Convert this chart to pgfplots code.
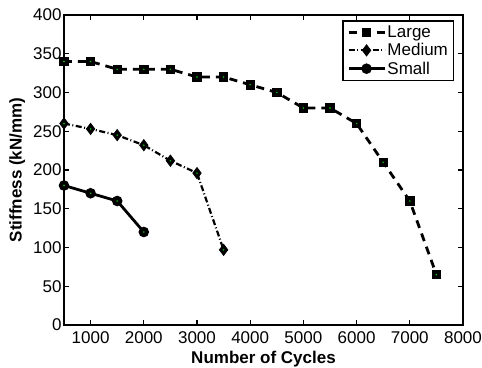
\documentclass[border=0pt]{standalone}
\usepackage{pgfplots}
\pgfplotsset{compat=1.18}
\usepackage{fontspec}
\setmainfont{Liberation Sans}
\begin{document}
\begin{tikzpicture}
\begin{axis}[
  name=ax,
  scale only axis,
  width=399pt, height=310pt,
  xmin=500, xmax=8000, ymin=0, ymax=400,
  xtick={1000,2000,3000,4000,5000,6000,7000,8000},
  ytick={0,50,100,150,200,250,300,350,400},
  tick align=inside,
  major tick length=5pt,
  axis line style={line width=2.4pt},
  every tick/.style={black, line width=1.2pt},
  /pgf/number format/assume math mode=true,
  /pgf/number format/1000 sep={},
  tick label style={font=\fontsize{17}{17}\selectfont},
  xticklabel style={yshift=-3pt},
  yticklabel style={xshift=1pt},
  xlabel={\textbf{Number of Cycles}},
  ylabel={\textbf{Stiffness (kN/mm)}},
  label style={font=\fontsize{17}{17}\selectfont},
  xlabel style={yshift=-1pt},
  ylabel style={yshift=1pt},
  legend style={at={(0.978,0.984)}, anchor=north east, draw=black, line width=1.6pt,
    font=\fontsize{17}{20}\selectfont, row sep=0.5pt, inner xsep=4pt, inner ysep=3pt,
    nodes={inner xsep=1.5pt}},
  legend cell align=left,
  legend image code/.code={\draw[mark repeat=2,mark phase=2] plot coordinates {(0pt,0pt)(18pt,0pt)(36pt,0pt)};},
]
\addplot[black, line width=2.8pt, dash pattern=on 8pt off 6pt, mark=square*, mark size=4.2pt, mark options={solid, line width=0.8pt}]
coordinates {(500,340)(1000,340)(1500,330)(2000,330)(2500,330)(3000,320)(3500,320)(4000,310)(4500,300)(5000,280)(5500,280)(6000,260)(6500,210)(7000,160)(7500,65)};
\addlegendentry{Large}
\addplot[black, line width=2.2pt, dash pattern=on 6pt off 2.5pt on 1pt off 2.5pt, mark=diamond*, mark size=5.6pt, mark options={solid, line width=0.8pt}]
coordinates {(500,260)(1000,253)(1500,245)(2000,232)(2500,212)(3000,196)(3500,97)};
\addlegendentry{Medium}
\addplot[black, line width=2.8pt, mark=*, mark size=3.8pt, mark options={solid}]
coordinates {(500,180)(1000,170)(1500,160)(2000,120)};
\addlegendentry{Small}
\addplot[forget plot, only marks, mark=*, mark size=0.5pt, green!80!black]
coordinates {(500,340)(1000,340)(1500,330)(2000,330)(2500,330)(3000,320)(3500,320)(4000,310)(4500,300)(5000,280)(5500,280)(6000,260)(6500,210)(7000,160)(7500,65)
(500,260)(1000,253)(1500,245)(2000,232)(2500,212)(3000,196)(3500,97)
(500,180)(1000,170)(1500,160)(2000,120)};
\end{axis}
\pgfresetboundingbox
\path[use as bounding box] ([shift={(-64pt,-42pt)}]ax.south west) rectangle ([shift={(19pt,15pt)}]ax.north east);
\end{tikzpicture}
\end{document}
